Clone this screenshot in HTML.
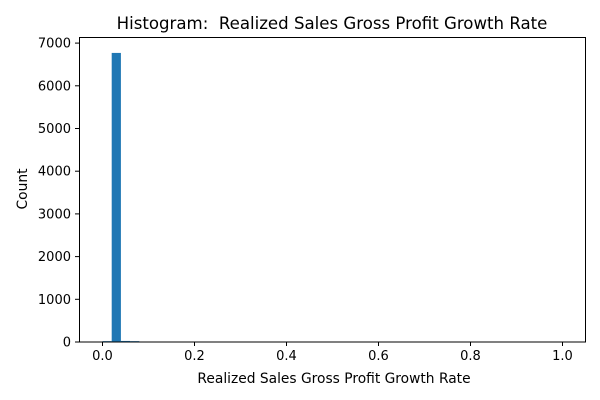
<!DOCTYPE html>
<html><head><meta charset="utf-8"><style>
body{margin:0;background:#fff;}
svg{display:block;font-family:"DejaVu Sans","Liberation Sans",sans-serif;}
</style></head><body>
<svg id="chart" width="600" height="400">
<text x="332" y="29" font-size="16.6" text-anchor="middle" xml:space="preserve" style="white-space:pre">Histogram:  Realized Sales Gross Profit Growth Rate</text>
<g id="bars"></g>
<g id="xticks"></g>
<g id="yticks"></g>
<rect x="79.5" y="37.5" width="506" height="304.5" fill="none" stroke="#000" stroke-width="1"/>
<text x="334" y="383" font-size="13.8" text-anchor="middle">Realized Sales Gross Profit Growth Rate</text>
<text transform="translate(27,189) rotate(-90)" font-size="13.8" text-anchor="middle">Count</text>
</svg>
<script>
const binStarts = [0.00, 0.02, 0.04, 0.06];
const counts = [20, 6770, 25, 20];
const binWidth = 0.02;
const xTicks = [0, 0.2, 0.4, 0.6, 0.8, 1.0];
const xTickLabels = ["0.0", "0.2", "0.4", "0.6", "0.8", "1.0"];
const yTicks = [0, 1000, 2000, 3000, 4000, 5000, 6000, 7000];
const yTickLabels = ["0", "1000", "2000", "3000", "4000", "5000", "6000", "7000"];

const NS = "http://www.w3.org/2000/svg";
const xs = v => 102.5 + v * 460;
const ys = v => 342 - v * 0.0427;
const bars = document.getElementById('bars');
binStarts.forEach((b, i) => {
  const r = document.createElementNS(NS, 'rect');
  r.setAttribute('x', xs(b));
  r.setAttribute('width', xs(b + binWidth) - xs(b));
  r.setAttribute('y', ys(counts[i]));
  r.setAttribute('height', Math.max(ys(0) - ys(counts[i]), 0));
  r.setAttribute('fill', '#1f77b4');
  
  
  bars.appendChild(r);
});
const xt = document.getElementById('xticks');
xTicks.forEach((v, i) => {
  const l = document.createElementNS(NS, 'line');
  l.setAttribute('x1', xs(v)); l.setAttribute('x2', xs(v));
  l.setAttribute('y1', 342); l.setAttribute('y2', 346);
  l.setAttribute('stroke', '#000');
  
  
  xt.appendChild(l);
  const t = document.createElementNS(NS, 'text');
  t.setAttribute('x', xs(v)); t.setAttribute('y', 360);
  t.setAttribute('font-size', '13'); t.setAttribute('text-anchor', 'middle');
  t.textContent = xTickLabels[i];
  
  
  xt.appendChild(t);
});
const yt = document.getElementById('yticks');
yTicks.forEach((v, i) => {
  const l = document.createElementNS(NS, 'line');
  l.setAttribute('x1', 75); l.setAttribute('x2', 79.5);
  l.setAttribute('y1', ys(v)); l.setAttribute('y2', ys(v));
  l.setAttribute('stroke', '#000');
  
  
  yt.appendChild(l);
  const t = document.createElementNS(NS, 'text');
  t.setAttribute('x', 71); t.setAttribute('y', ys(v) + 4.5);
  t.setAttribute('font-size', '13'); t.setAttribute('text-anchor', 'end');
  t.textContent = yTickLabels[i];
  
  
  yt.appendChild(t);
});
</script>
</body></html>
